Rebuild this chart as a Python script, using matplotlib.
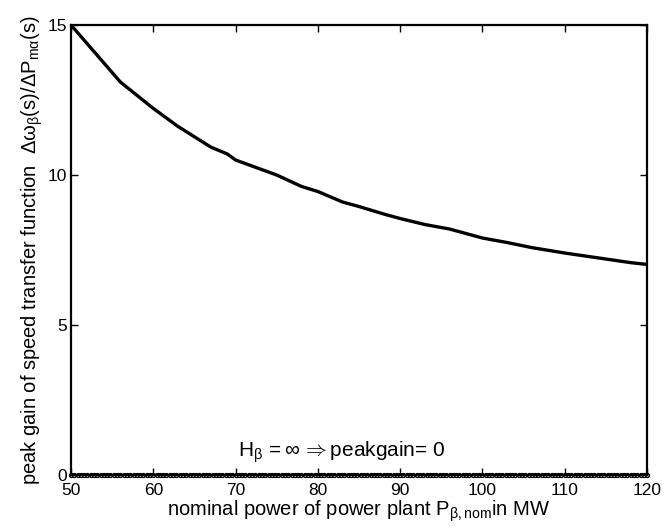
import numpy as np
import matplotlib.pyplot as plt

plt.rcParams['font.family'] = ['Liberation Sans', 'DejaVu Sans']
plt.rcParams['mathtext.fontset'] = 'custom'
plt.rcParams['mathtext.rm'] = 'Liberation Sans'
plt.rcParams['mathtext.it'] = 'Liberation Sans'
plt.rcParams['mathtext.bf'] = 'Liberation Sans:bold'

# peak gain vs nominal power
p_nom = [50, 56, 60, 63, 67, 69, 70, 75, 78, 80, 83, 85, 88, 90, 93, 96, 98,
         100, 103, 106, 110, 115, 118, 120]
peak_gain = [15.0, 13.1, 12.22, 11.62, 10.93, 10.7, 10.5, 10.0, 9.62, 9.45, 9.1,
             8.95, 8.7, 8.55, 8.35, 8.2, 8.05, 7.9, 7.75, 7.58, 7.4, 7.2, 7.08, 7.02]

# H_beta = inf case
p_inf = np.arange(50, 120.01, 0.4)
gain_inf = np.zeros(len(p_inf))

fs = 12.5
fl = 14.5
fig = plt.figure(figsize=(6.66, 5.29), dpi=100)
ax = fig.add_axes([0.1066, 0.102, 0.865, 0.8507])

ax.plot(p_nom, peak_gain, color='k', lw=2.4)
ax.plot(p_inf, gain_inf, color='k', lw=1.2, marker='o', ms=2.8,
        mfc='white', mec='k', mew=1.0, clip_on=False)

ax.text(82.9, 0.35, r'$\mathrm{H}_{\beta}\,=\infty\,\Rightarrow$peakgain= 0',
        ha='center', va='bottom', fontsize=15)

ax.set_xlim(50, 120)
ax.set_ylim(0, 15)
ax.set_xticks([50, 60, 70, 80, 90, 100, 110, 120])
ax.set_yticks([0, 5, 10, 15])
ax.tick_params(direction='in', top=True, right=True, length=5, width=1,
               labelsize=fs)
ax.tick_params(axis='x', pad=6)
ax.tick_params(axis='y', pad=3)
for s in ax.spines.values():
    s.set_linewidth(1.6)

ax.set_xlabel(r'nominal power of power plant $\mathrm{P}_{\beta,\mathrm{nom}}$in MW',
              fontsize=fl, labelpad=0)
ax.set_ylabel(r'peak gain of speed transfer function  $\Delta\omega_{\beta}(\mathrm{s})/\Delta \mathrm{P}_{\mathrm{m}\alpha}(\mathrm{s})$',
              fontsize=fl, labelpad=2)

fig.savefig('out.png', dpi=100)
